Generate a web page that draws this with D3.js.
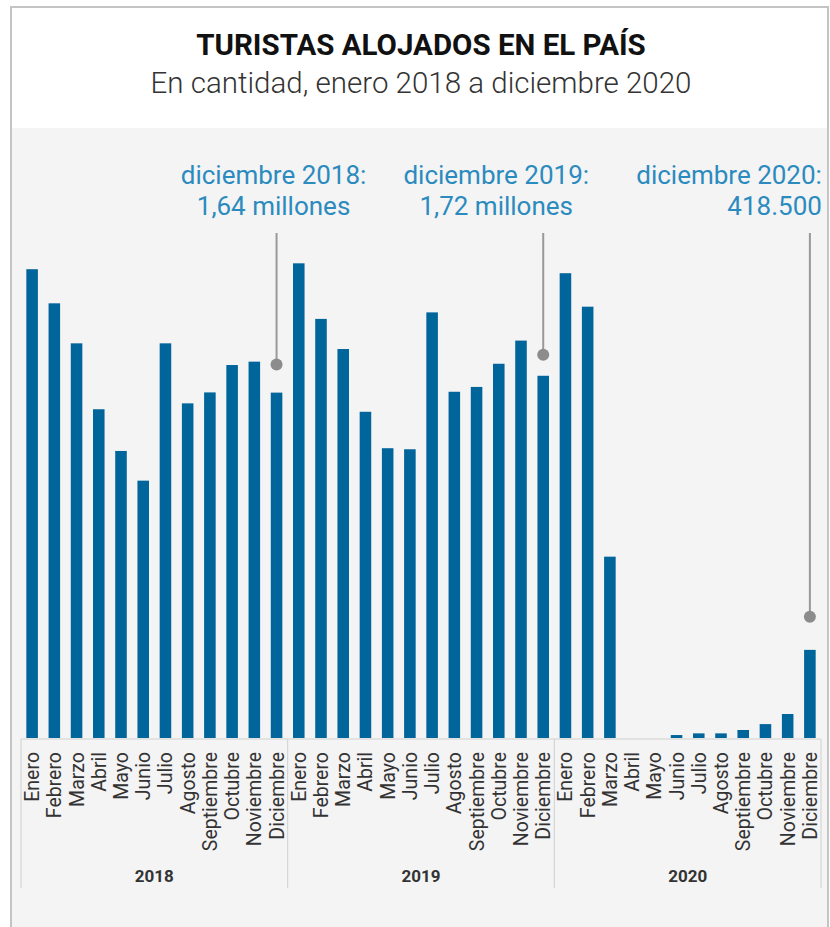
<!DOCTYPE html>
<html>
<head>
<meta charset="utf-8">
<script src="https://cdn.jsdelivr.net/npm/d3@7/dist/d3.min.js"></script>
<style>
  body { margin: 0; background: #fff; }
  text { font-family: Roboto, 'Noto Sans', sans-serif; }
</style>
</head>
<body>
<div id="content"></div>
<script>
var width = 830, height = 927

// data
const years = ['2018', '2019', '2020']
const months = ['Enero', 'Febrero', 'Marzo', 'Abril', 'Mayo', 'Junio', 'Julio',
    'Agosto', 'Septiembre', 'Octubre', 'Noviembre', 'Diciembre']
const turistas2018 = [2226000, 2064000, 1874000, 1561000, 1363000, 1222000,
    1874000, 1589000, 1641000, 1771000, 1787000, 1640000]
const turistas2019 = [2254000, 1990000, 1847000, 1549000, 1376000, 1371000,
    2021000, 1644000, 1667000, 1777000, 1887000, 1720000]
const turistas2020 = [2207000, 2048000, 861000, 0, 0, 14000,
    22000, 22000, 38000, 66000, 114000, 418500]
const notes = [
    { key: '2018-Diciembre', lines: ['diciembre 2018:', '1,64 millones'] },
    { key: '2019-Diciembre', lines: ['diciembre 2019:', '1,72 millones'] },
    { key: '2020-Diciembre', lines: ['diciembre 2020:', '418.500'] }
]

const series = [turistas2018, turistas2019, turistas2020]
const data = []
years.forEach((yr, i) => months.forEach((m, j) =>
    data.push({ key: yr + '-' + m, year: yr, month: m, value: series[i][j] })))

// layout of the notes (text anchor / offsets from the bar)
const noteLayout = [
    { anchor: 'middle', dx: -3, gap: 28 },
    { anchor: 'middle', dx: -47, gap: 21 },
    { anchor: 'end', dx: 12, gap: 33 }
]

const svg = d3.select('#content')
    .append('svg')
    .attr('width', width)
    .attr('height', height)

// frame + grey panel
svg.append('rect')
    .attr('x', 11).attr('y', 7)
    .attr('width', 817).attr('height', 940)
    .attr('fill', '#fff')
    .attr('stroke', '#c4c4c4')
    .attr('stroke-width', 2)
svg.append('rect')
    .attr('x', 12).attr('y', 128)
    .attr('width', 815).attr('height', 800)
    .attr('fill', '#f4f4f4')

svg.append('text')
    .attr('x', 421).attr('y', 55)
    .attr('text-anchor', 'middle')
    .attr('font-size', 29.5)
    .attr('font-weight', 700)
    .attr('fill', '#111')
    .text('TURISTAS ALOJADOS EN EL PAÍS')

svg.append('text')
    .attr('x', 421).attr('y', 93)
    .attr('text-anchor', 'middle')
    .attr('font-size', 29.5)
    .attr('font-weight', 300)
    .attr('fill', '#333')
    .text('En cantidad, enero 2018 a diciembre 2020')

// scales
const x = d3.scaleBand()
    .domain(data.map(d => d.key))
    .range([21, 821])
    .paddingInner(0.48)
    .paddingOuter(0.24)

const y = d3.scaleLinear()
    .domain([0, 1000000])
    .range([738, 738 - 210.6])

const cx = k => x(k) + x.bandwidth() / 2

// bars
svg.append('g')
    .attr('class', 'bars')
    .selectAll('rect')
    .data(data)
    .join('rect')
    .attr('x', d => x(d.key))
    .attr('width', x.bandwidth())
    .attr('y', d => y(d.value))
    .attr('height', d => y(0) - y(d.value))
    .attr('fill', '#00659a')

// month labels
svg.append('g')
    .attr('class', 'months')
    .selectAll('text')
    .data(data)
    .join('text')
    .attr('transform', d => `translate(${cx(d.key)},752) rotate(-90)`)
    .attr('dy', '0.36em')
    .attr('text-anchor', 'end')
    .attr('font-size', 19.5)
    .attr('fill', '#333')
    .text(d => d.month)

// year groups
const grp = svg.append('g').attr('class', 'years')
const yearStart = yr => x(yr + '-Enero') - x.step() * x.paddingOuter()
const yearEnd = yr => x(yr + '-Diciembre') + x.bandwidth() + x.step() * x.paddingOuter()

grp.append('line')
    .attr('x1', yearStart(years[0])).attr('x2', yearEnd(years[years.length - 1]))
    .attr('y1', 739).attr('y2', 739)
    .attr('stroke', '#d0d0d0')

grp.selectAll('line.sep')
    .data(years.map(yearStart).concat([yearEnd(years[years.length - 1])]))
    .join('line')
    .attr('class', 'sep')
    .attr('x1', d => d).attr('x2', d => d)
    .attr('y1', 739).attr('y2', 888)
    .attr('stroke', '#d0d0d0')

grp.selectAll('text')
    .data(years)
    .join('text')
    .attr('x', d => (yearStart(d) + yearEnd(d)) / 2)
    .attr('y', 882)
    .attr('text-anchor', 'middle')
    .attr('font-size', 17)
    .attr('font-weight', 700)
    .attr('fill', '#333')
    .text(d => d)

// annotations
const byKey = new Map(data.map(d => [d.key, d]))
const note = svg.append('g')
    .attr('class', 'notes')
    .selectAll('g')
    .data(notes)
    .join('g')

note.append('line')
    .attr('x1', d => cx(d.key)).attr('x2', d => cx(d.key))
    .attr('y1', 233)
    .attr('y2', (d, i) => y(byKey.get(d.key).value) - noteLayout[i].gap)
    .attr('stroke', '#999')
    .attr('stroke-width', 2)

note.append('circle')
    .attr('cx', d => cx(d.key))
    .attr('cy', (d, i) => y(byKey.get(d.key).value) - noteLayout[i].gap)
    .attr('r', 6)
    .attr('fill', '#8c8c8c')

note.append('text')
    .attr('x', (d, i) => cx(d.key) + noteLayout[i].dx)
    .attr('y', 184)
    .attr('text-anchor', (d, i) => noteLayout[i].anchor)
    .attr('font-size', 26)
    .attr('fill', '#2b8bbf')
    .selectAll('tspan')
    .data(d => d.lines)
    .join('tspan')
    .attr('x', function () { return this.parentNode.getAttribute('x') })
    .attr('dy', (d, i) => i ? 31 : 0)
    .text(d => d)
</script>
</body>
</html>
